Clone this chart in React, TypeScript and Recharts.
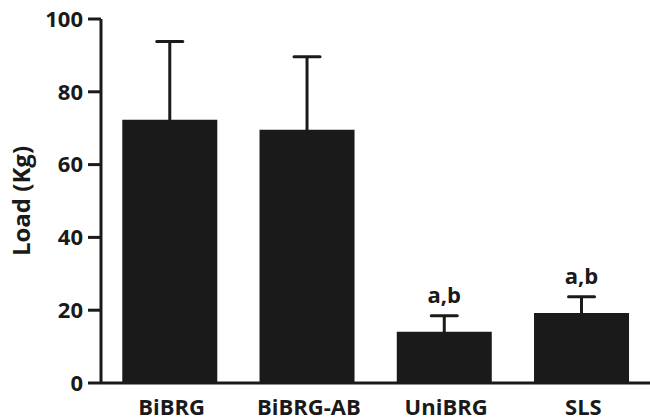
import { BarChart, Bar, XAxis, YAxis, LabelList, Label } from "recharts";

const groups = ["BiBRG", "BiBRG-AB", "UniBRG", "SLS"];
const loads = [72.3, 69.6, 14.1, 19.2];
const sds = [21.5, 20.0, 4.4, 4.5];
const marks = ["", "", "a,b", "a,b"];
const yTicks = [0, 20, 40, 60, 80, 100];

const data = groups.map((g, i) => ({
  name: g,
  load: loads[i],
  sd: sds[i],
  mark: marks[i],
}));

const ink = "#1a1a1a";
const font = "'Open Sans', Lato, sans-serif";

// error bar (upper half only) plus the significance letters
function ErrAndMark(props: any) {
  const { x, y, width, height, index } = props;
  const d = data[index];
  const pxPerUnit = height / d.load;
  const top = y - d.sd * pxPerUnit;
  const cx = x + width / 2;
  return (
    <g>
      <line x1={cx} x2={cx} y1={y + 2} y2={top} stroke={ink} strokeWidth={3} />
      <line x1={cx - 13} x2={cx + 13} y1={top} y2={top} stroke={ink} strokeWidth={3} strokeLinecap="round" />
      {d.mark ? (
        <text
          x={cx}
          y={top - 13}
          textAnchor="middle"
          fontFamily={font}
          fontWeight={700}
          fontSize={22}
          fill={ink}
        >
          {d.mark}
        </text>
      ) : null}
    </g>
  );
}

export default function App() {
  return (
    <div style={{ position: "absolute", left: 0, top: 0, width: 650, height: 420, background: "#fff" }}>
      <BarChart
        width={650}
        height={420}
        data={data}
        margin={{ top: 19, right: 0, bottom: 0, left: 0 }}
        barCategoryGap="15.5%"
      >
        <XAxis
          dataKey="name"
          tickLine={false}
          tickSize={0}
          tickMargin={16}
          height={37}
          axisLine={{ stroke: ink, strokeWidth: 3 }}
          tick={{ fill: ink, fontFamily: font, fontWeight: 700, fontSize: 22, verticalAnchor: "start", dx: 2 }}
        />
        <YAxis
          width={101}
          domain={[0, 100]}
          ticks={yTicks}
          interval={0}
          tickSize={13}
          tickMargin={5}
          axisLine={{ stroke: ink, strokeWidth: 3 }}
          tickLine={{ stroke: ink, strokeWidth: 3 }}
          tick={{ fill: ink, fontFamily: font, fontWeight: 700, fontSize: 22 }}
        >
          <Label
            value="Load (Kg)"
            angle={-90}
            position="center"
            dx={-29}
            fill={ink}
            fontFamily={font}
            fontWeight={700}
            fontSize={24}
          />
        </YAxis>
        <Bar dataKey="load" fill={ink} isAnimationActive={false}>
          <LabelList dataKey="mark" content={ErrAndMark} />
        </Bar>
      </BarChart>
    </div>
  );
}
